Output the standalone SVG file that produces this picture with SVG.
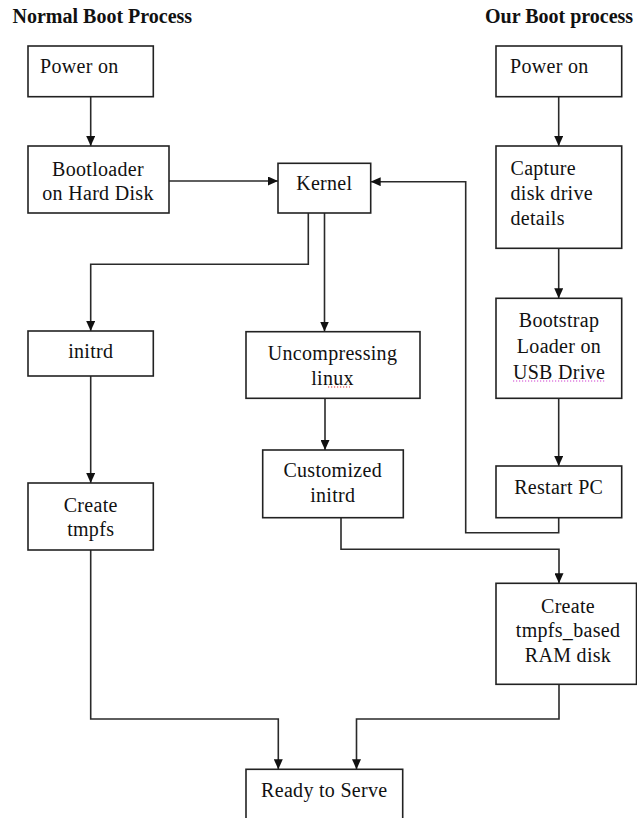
<svg xmlns="http://www.w3.org/2000/svg" width="637" height="818" viewBox="0 0 637 818">
  <style>
    .box { fill: #fff; stroke: #222; stroke-width: 1.6; }
    .lbl { font-family: "Liberation Serif", "Times New Roman", serif; font-size: 20px; letter-spacing: 0.3px; fill: #111; }
    .mid { text-anchor: middle; }
    .hdr { font-family: "Liberation Serif", "Times New Roman", serif; font-size: 20px; font-weight: bold; fill: #111; }
    .wire { fill: none; stroke: #2a2a2a; stroke-width: 1.6; }
    .arr { marker-end: url(#head); }
    .squig { fill: none; stroke-width: 1.2; stroke-dasharray: 1.2 1.8; }
  </style>
  <defs>
    <marker id="head" markerUnits="userSpaceOnUse" markerWidth="10" markerHeight="9" refX="10" refY="4.5" orient="auto">
      <path d="M0,0 L10,4.5 L0,9 z" fill="#111"/>
    </marker>
  </defs>
  <rect width="637" height="818" fill="#fff"/>

  <!-- column titles -->
  <text class="hdr" x="12.5" y="23">Normal Boot Process</text>
  <text class="hdr" x="485" y="23">Our Boot process</text>

  <!-- connectors -->
  <g id="connectors">
    <path class="wire arr" d="M90.7,97 V146"/>
    <path class="wire arr" d="M169,181 H278"/>
    <path class="wire arr" d="M308.3,213 V264.3 H90.7 V331"/>
    <path class="wire arr" d="M324.5,213 V331.5"/>
    <path class="wire arr" d="M90.7,376 V483"/>
    <path class="wire arr" d="M325,398.3 V450"/>
    <path class="wire arr" d="M341,518 V549.3 H559 V583.3"/>
    <path class="wire arr" d="M90.7,550 V719 H278.3 V769.3"/>
    <path class="wire arr" d="M559,684.3 V719 H356.5 V769.3"/>
    <path class="wire arr" d="M558.7,97 V146"/>
    <path class="wire arr" d="M558.7,248.3 V298.3"/>
    <path class="wire arr" d="M558.7,398.3 V466"/>
    <path class="wire arr" d="M558.7,517.7 V532.7 H465.7 V181.7 H370.7"/>
  </g>

  <!-- normal boot path -->
  <g id="power-on-left">
    <rect class="box" x="28" y="46" width="125.3" height="50.7"/>
    <text class="lbl" x="40" y="73">Power on</text>
  </g>
  <g id="bootloader">
    <rect class="box" x="28" y="146" width="141" height="67"/>
    <text class="lbl mid" x="98" y="176">Bootloader</text>
    <text class="lbl mid" x="98" y="200">on Hard Disk</text>
  </g>
  <g id="kernel">
    <rect class="box" x="278" y="163.3" width="92.7" height="49.7"/>
    <text class="lbl mid" x="324.3" y="190">Kernel</text>
  </g>
  <g id="initrd">
    <rect class="box" x="28" y="331" width="125.3" height="45"/>
    <text class="lbl mid" x="90.7" y="358">initrd</text>
  </g>
  <g id="create-tmpfs">
    <rect class="box" x="28" y="483" width="125.3" height="67"/>
    <text class="lbl mid" x="90.7" y="511.7">Create</text>
    <text class="lbl mid" x="90.7" y="536">tmpfs</text>
  </g>
  <g id="uncompressing">
    <rect class="box" x="246" y="331.7" width="174" height="66.6"/>
    <text class="lbl mid" x="332.5" y="360">Uncompressing</text>
    <text class="lbl mid" x="332.5" y="385">linux</text>
    <path class="squig" stroke="#e03030" d="M328,387 H350"/>
  </g>
  <g id="customized-initrd">
    <rect class="box" x="262.7" y="450" width="140.6" height="67.7"/>
    <text class="lbl mid" x="332.7" y="476.7">Customized</text>
    <text class="lbl mid" x="332.7" y="501.5">initrd</text>
  </g>

  <!-- custom boot path -->
  <g id="power-on-right">
    <rect class="box" x="496" y="46" width="125.7" height="50.7"/>
    <text class="lbl" x="510" y="73">Power on</text>
  </g>
  <g id="capture">
    <rect class="box" x="496" y="146" width="125.7" height="102.3"/>
    <text class="lbl" x="510.5" y="175">Capture</text>
    <text class="lbl" x="510.5" y="200">disk drive</text>
    <text class="lbl" x="510.5" y="225">details</text>
  </g>
  <g id="bootstrap">
    <rect class="box" x="496" y="298.3" width="125.7" height="100"/>
    <text class="lbl mid" x="559" y="326.7">Bootstrap</text>
    <text class="lbl mid" x="559" y="353">Loader on</text>
    <text class="lbl mid" x="559" y="379">USB Drive</text>
    <path class="squig" stroke="#d040d0" d="M513,381 H605"/>
  </g>
  <g id="restart">
    <rect class="box" x="496" y="466" width="125.7" height="51.7"/>
    <text class="lbl mid" x="558.7" y="494">Restart PC</text>
  </g>
  <g id="create-ramdisk">
    <rect class="box" x="496" y="583.3" width="140.5" height="101"/>
    <text class="lbl mid" x="568" y="612.7">Create</text>
    <text class="lbl mid" x="568" y="636.7">tmpfs_based</text>
    <text class="lbl mid" x="568" y="661.7">RAM disk</text>
  </g>

  <!-- shared end state -->
  <g id="ready">
    <rect class="box" x="246" y="769.3" width="156.7" height="70"/>
    <text class="lbl mid" x="324.3" y="796.7">Ready to Serve</text>
  </g>
</svg>
